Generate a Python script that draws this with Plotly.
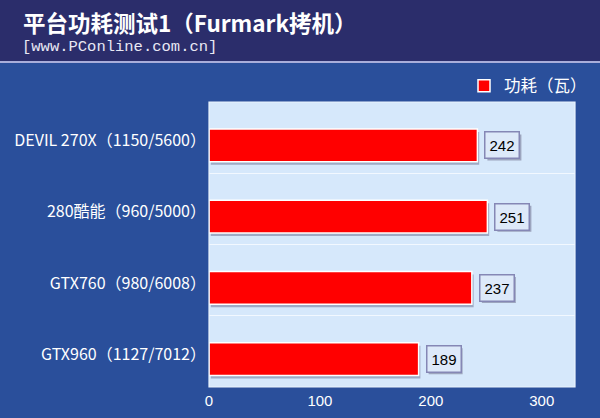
import plotly.graph_objects as go

# ---- data ----
categories = ["DEVIL 270X（1150/5600）", "280酷能（960/5000）", "GTX760（980/6008）", "GTX960（1127/7012）"]
power_w = [242, 251, 237, 189]
x_ticks = [0, 100, 200, 300]
series_name = "功耗（瓦）"
title_text = "平台功耗测试1（Furmark拷机）"
subtitle_text = "[www.PConline.com.cn]"

W, H = 600, 418
L, R, T, B = 209, 25, 102, 31
PW = W - L - R
PH = H - T - B

def pxx(px):
    return (px - L) / PW

def pxy(py):
    return (H - B - py) / PH

CJK = "Noto Sans CJK SC"
pos = list(range(len(categories)))

fig = go.Figure()

# shadow bars
fig.add_trace(go.Bar(
    x=power_w, y=pos, orientation="h", base=1.6,
    width=0.46, offset=-0.08,
    marker=dict(color="rgba(90,95,130,0.45)", line=dict(width=0)),
    showlegend=False, hoverinfo="skip",
))
# main bars
fig.add_trace(go.Bar(
    x=power_w, y=pos, orientation="h", name=series_name,
    width=0.46, offset=-0.12,
    marker=dict(color="#ff0000", line=dict(color="#ffffff", width=1.5)),
))

annotations = []
shapes = [
    dict(type="rect", xref="paper", yref="paper", x0=pxx(-5), x1=pxx(W + 5),
         y0=pxy(61), y1=pxy(-5), fillcolor="#2b2d6b", line=dict(width=0), layer="below"),
    dict(type="rect", xref="paper", yref="paper", x0=pxx(-5), x1=pxx(W + 5),
         y0=pxy(63), y1=pxy(61), fillcolor="#a9aedb", line=dict(width=0), layer="below"),
    dict(type="rect", xref="paper", yref="paper", x0=0, x1=1, y0=0, y1=1,
         fillcolor="rgba(0,0,0,0)", line=dict(color="#eaf3fe", width=1.2), layer="above"),
]

for i, v in enumerate(power_w):
    # shadow of the value box
    shapes.append(dict(
        type="rect", xref="x", yref="y", xsizemode="pixel", ysizemode="pixel",
        xanchor=v, yanchor=i + 0.11, x0=10, x1=44, y0=-15, y1=11,
        fillcolor="rgba(110,110,140,0.55)", line=dict(width=0), layer="above",
    ))
    annotations.append(dict(
        x=v, y=i + 0.11, xref="x", yref="y", text=str(v), showarrow=False,
        xanchor="left", yanchor="middle", xshift=7,
        font=dict(family="Arial, Liberation Sans", size=15, color="#000000"),
        bgcolor="#dde9f9", borderpad=4, borderwidth=1.5, bordercolor="#8587b5",
    ))

annotations.append(dict(
    x=pxx(21), y=pxy(22), xref="paper", yref="paper", text="<b>" + title_text + "</b>",
    showarrow=False, xanchor="left", yanchor="middle",
    font=dict(family=CJK, size=22.5, color="#ffffff"),
))
annotations.append(dict(
    x=pxx(20), y=pxy(47), xref="paper", yref="paper", text=subtitle_text,
    showarrow=False, xanchor="left", yanchor="middle",
    font=dict(family="Liberation Mono, DejaVu Sans Mono", size=15.5, color="#e8e8f4"),
))

fig.update_layout(
    width=W, height=H,
    margin=dict(l=L, r=R, t=T, b=B, pad=0, autoexpand=False),
    paper_bgcolor="#2a4f9b",
    plot_bgcolor="#d6e8fb",
    bargap=0.5,
    showlegend=True,
    legend=dict(
        x=pxx(592), y=pxy(86), xanchor="right", yanchor="middle",
        bgcolor="rgba(0,0,0,0)", borderwidth=0,
        font=dict(family=CJK, size=16.5, color="#ffffff"),
        itemwidth=30,
    ),
    xaxis=dict(
        range=[0, 330], tickvals=x_ticks, showgrid=False, zeroline=False,
        showline=False, ticks="", ticklabelstandoff=3,
        tickfont=dict(family="Arial, Liberation Sans", size=15, color="#ffffff"),
        fixedrange=True,
    ),
    yaxis=dict(
        range=[3.5, -0.5], tickvals=[p + 0.04 for p in pos], ticktext=categories,
        showgrid=False, zeroline=False, showline=False, ticks="",
        ticklabelstandoff=2,
        tickfont=dict(family=CJK, size=16, color="#ffffff"),
        minor=dict(tickvals=[p + 0.5 for p in [-1] + pos], showgrid=True,
                   gridcolor="#f2f8ff", gridwidth=1.2, ticks=""),
        fixedrange=True,
    ),
    annotations=annotations,
    shapes=shapes,
)

fig.write_html(
    "out.html",
    config={"displayModeBar": False},
    post_script="document.body.style.margin='0';document.body.style.overflow='hidden';",
)
